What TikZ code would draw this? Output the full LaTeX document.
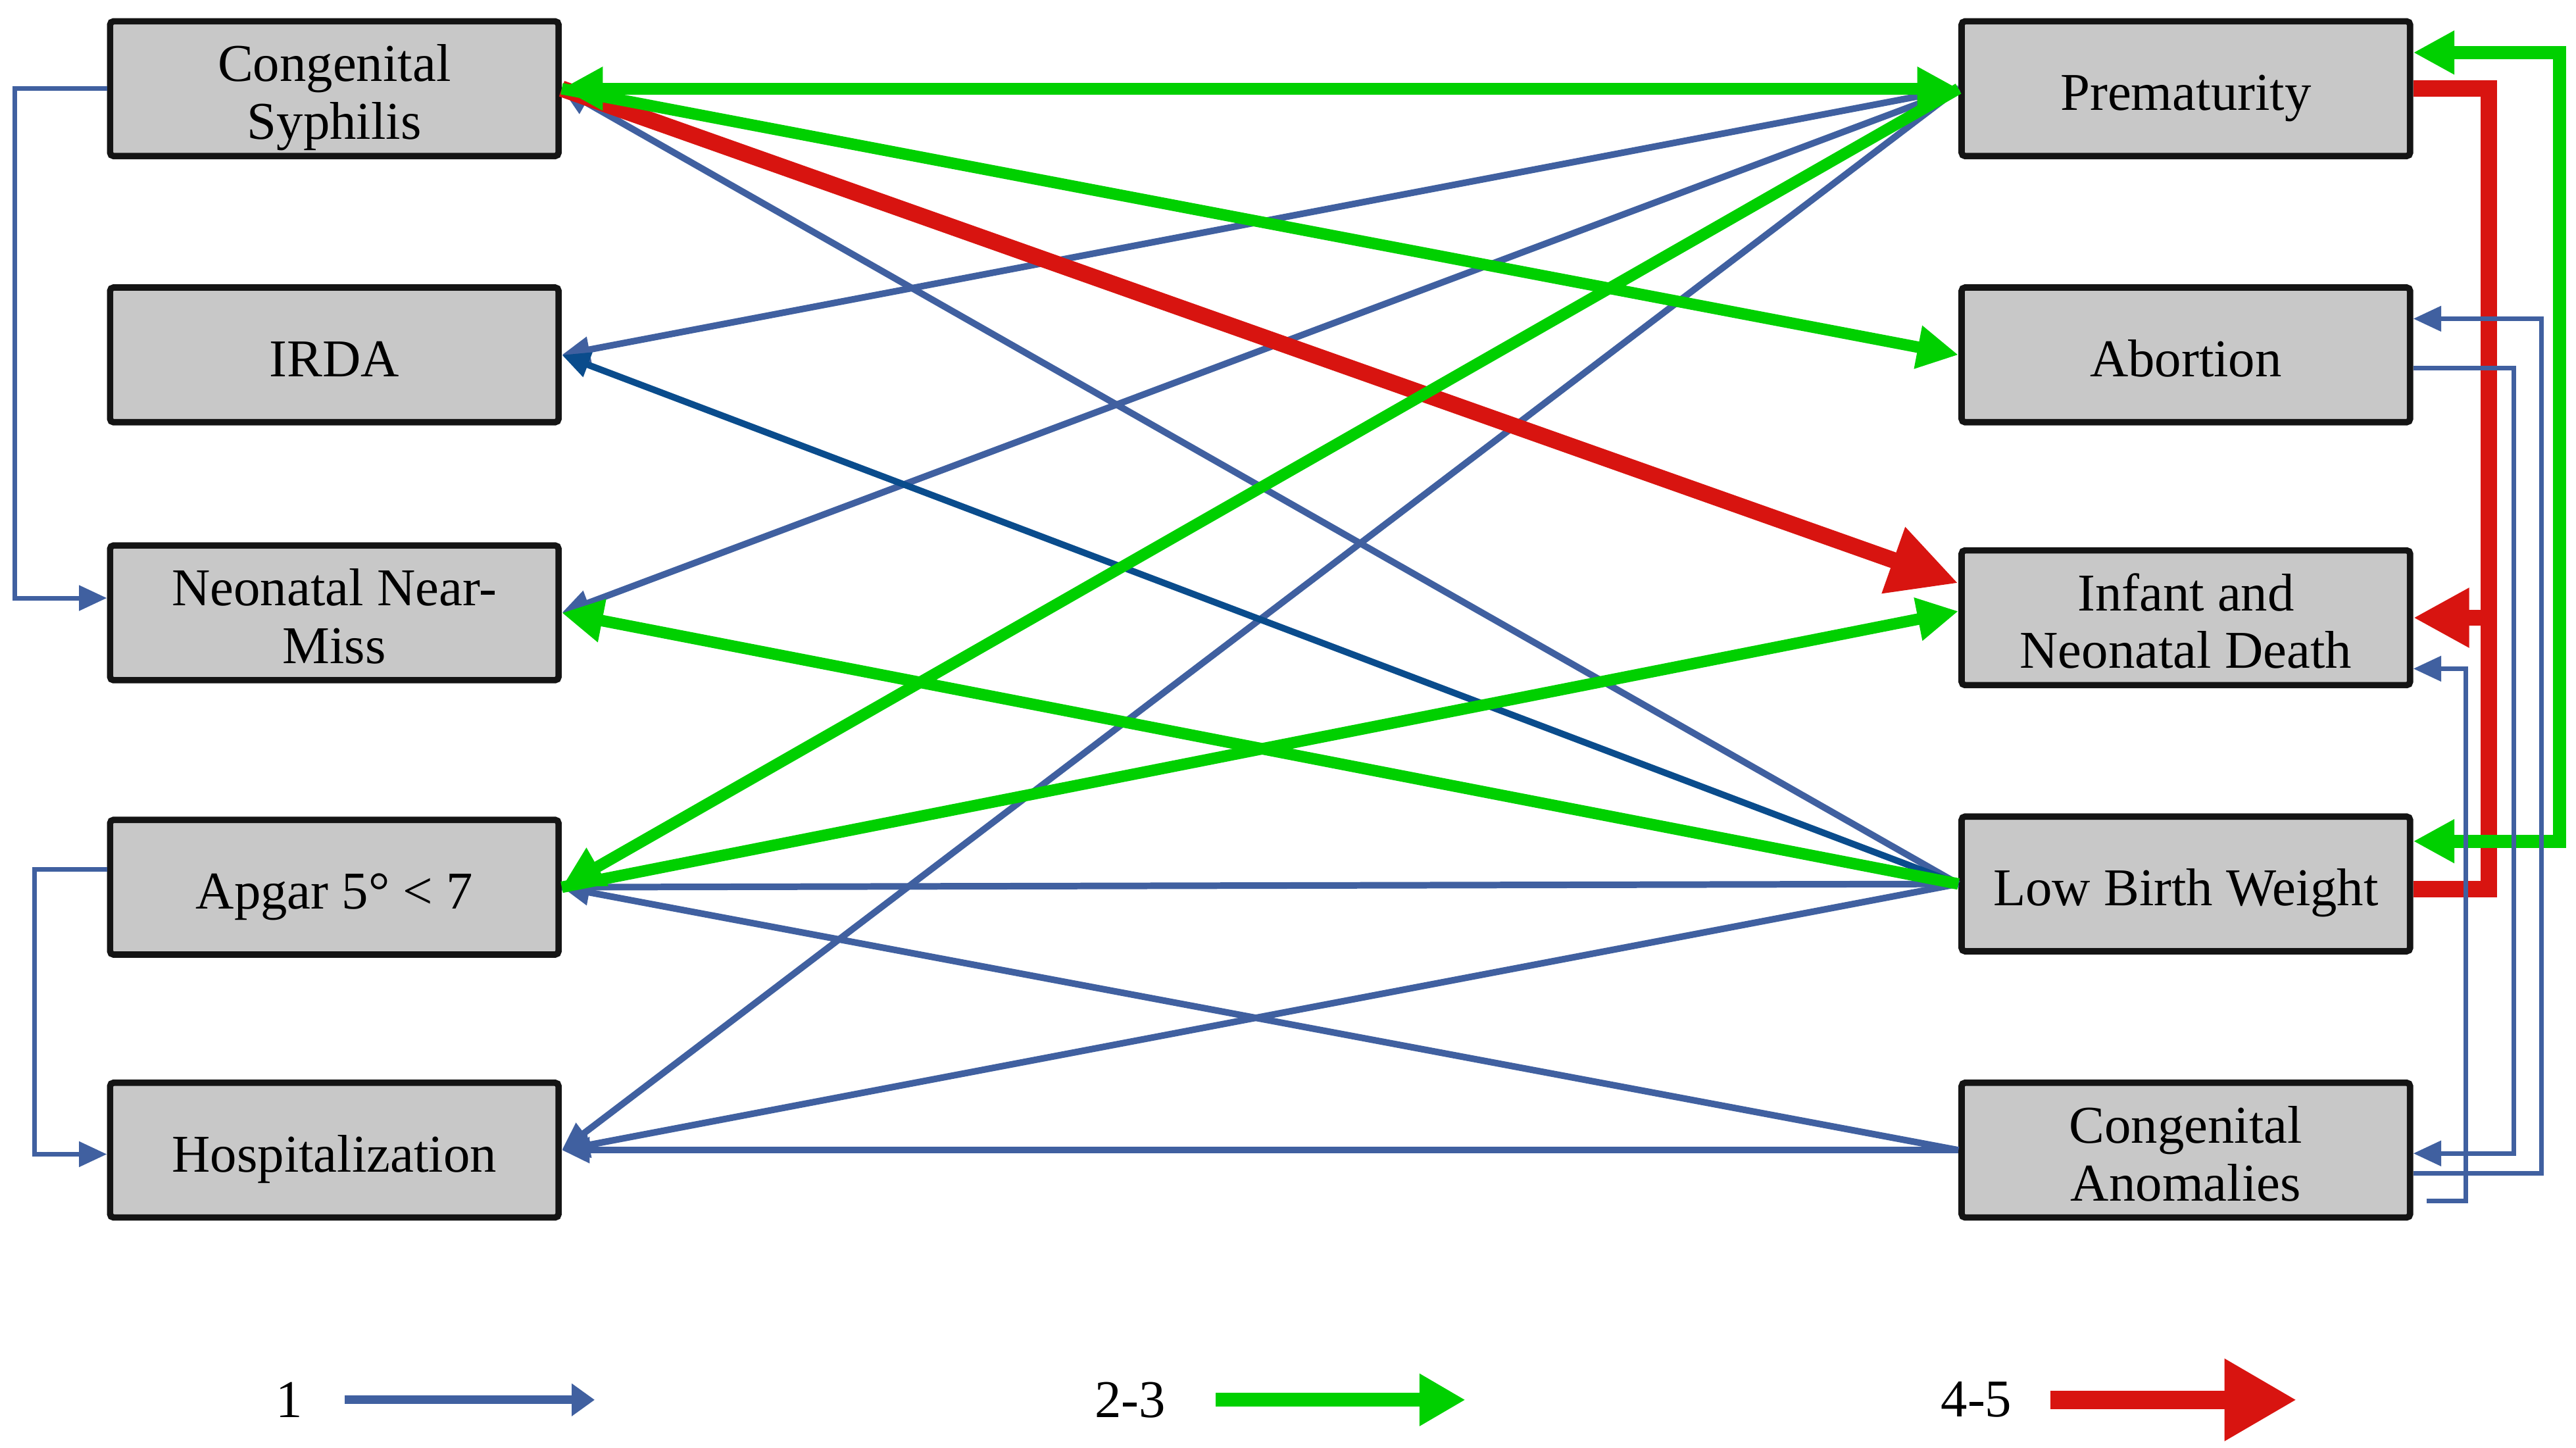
\documentclass[tikz,border=0pt]{standalone}
\usepackage{fontspec}
\setmainfont{Liberation Serif}
\usetikzlibrary{arrows.meta}

\definecolor{boxgray}{HTML}{C8C8C8}
\definecolor{lineblue}{HTML}{4060A0}
\definecolor{darkblue}{HTML}{0A4C8C}
\definecolor{linegreen}{HTML}{00D000}
\definecolor{linered}{HTML}{D81410}

\tikzset{
  box/.style={draw=black!92, line width=1.1pt, fill=boxgray, rounded corners=0.6pt,
    minimum width=2.73cm, minimum height=0.82cm, inner sep=0pt, align=center,
    text height=9.5pt, text depth=2pt,
    font=\fontsize{9.2}{10}\selectfont},
  twoline/.style={text height=19.5pt},
  one/.style={draw=lineblue, line width=0.04cm, -{Triangle[length=0.17cm,width=0.15cm]}},
  onethin/.style={one, line width=0.028cm},
  two/.style={draw=linegreen, line width=0.07cm, -{Triangle[length=0.25cm,width=0.25cm]}},
  four/.style={draw=linered, line width=0.1cm, -{Triangle[length=0.42cm,width=0.4cm]}},
  key/.style={font=\fontsize{9.2}{10}\selectfont}
}

\begin{document}
\begin{tikzpicture}
\useasboundingbox (0,0) rectangle (15.68,8.81);

% left column
\node[box,twoline] (cs) at (2.035,8.27) {Congenital\\Syphilis};
\node[box] (irda) at (2.035,6.65) {IRDA};
\node[box,twoline] (nnm) at (2.035,5.08) {Neonatal Near-\\Miss};
\node[box] (apg)  at (2.035,3.41) {Apgar 5° < 7};
\node[box] (hosp) at (2.035,1.81) {Hospitalization};

% right column
\node[box] (prem) at (13.305,8.27) {Prematurity};
\node[box] (abo)  at (13.305,6.65) {Abortion};
\node[box,twoline] (ind) at (13.305,5.05) {Infant and\\Neonatal Death};
\node[box] (lbw)  at (13.305,3.43) {Low Birth Weight};
\node[box,twoline] (ca) at (13.305,1.81) {Congenital\\Anomalies};

\coordinate (lx1) at (0.09,0);
\coordinate (lx2) at (0.21,0);
\coordinate (rx1) at (15.58,0);
\coordinate (rx2) at (15.15,0);
\coordinate (rx3) at (15.47,0);
\coordinate (rx4) at (15.30,0);
\coordinate (rx5) at (15.01,0);

% weight 1
\draw[one] (lbw.west) -- (cs.east);
\draw[one] (prem.west) -- (irda.east);
\draw[one] (prem.west) -- (nnm.east);
\draw[one] (prem.west) -- (hosp.east);
\draw[one,-] (lbw.west) -- (apg.east);
\draw[one] (ca.west) -- (apg.east);
\draw[one] (lbw.west) -- (hosp.east);
\draw[one] (ca.west) -- (hosp.east);
\draw[one,draw=darkblue] (lbw.west) -- (irda.east);
\draw[onethin] (cs.west) -- (cs.west -| lx1) |- ([yshift=0.09cm]nnm.west);
\draw[onethin] ([yshift=0.11cm]apg.west) -- ([yshift=0.11cm]apg.west -| lx2) |- ([yshift=-0.025cm]hosp.west);

% weight 4-5
\draw[four] (cs.east) -- ([yshift=0.21cm]ind.west);
\draw[four,-] (prem.east) -- (prem.east -| rx2) -- ([yshift=-0.03cm]lbw.east -| rx2) -- ([yshift=-0.03cm]lbw.east);
\draw[four,-{Triangle[length=0.34cm,width=0.34cm]}] (ind.east -| rx2) -- (ind.east);

% weight 2-3
\draw[two,{Triangle[length=0.25cm,width=0.25cm]}-{Triangle[length=0.25cm,width=0.25cm]}] (cs.east) -- (prem.west);
\draw[two] (cs.east) -- (abo.west);
\draw[two] (prem.west) -- (apg.east);
\draw[two] (lbw.west) -- (nnm.east);
\draw[two] (apg.east) -- ([yshift=0.04cm]ind.west);
\draw[two,line width=0.08cm,{Triangle[length=0.25cm,width=0.25cm]}-{Triangle[length=0.25cm,width=0.25cm]}] ([yshift=0.26cm]lbw.east) -- ([yshift=0.26cm]lbw.east -| rx1) |- ([yshift=0.22cm]prem.east);

% right side, weight 1
\draw[onethin] ([yshift=-0.14cm]ca.east) -- ([yshift=-0.14cm]ca.east -| rx3) |- ([yshift=0.22cm]abo.east);
\draw[onethin] ([yshift=-0.08cm]abo.east) -- ([yshift=-0.08cm]abo.east -| rx4) |- ([yshift=-0.02cm]ca.east);
\draw[onethin] ([xshift=0.08cm,yshift=-0.31cm]ca.east) -- ([yshift=-0.31cm]ca.east -| rx5) |- ([yshift=-0.31cm]ind.east);

% key
\node[key] (k1) at (1.76,0.29) {1};
\node[key] (k2) at (6.88,0.29) {2-3};
\node[key] (k3) at (12.03,0.29) {4-5};
\coordinate (k1a) at (2.10,0.29);
\coordinate (k1b) at (3.62,0.29);
\coordinate (k2a) at (7.40,0.29);
\coordinate (k2b) at (8.92,0.29);
\coordinate (k3a) at (12.48,0.29);
\coordinate (k3b) at (13.98,0.29);
\draw[one,line width=0.053cm,-{Triangle[length=0.14cm,width=0.19cm]}] (k1a) -- (k1b);
\draw[two,line width=0.084cm,-{Triangle[length=0.28cm,width=0.30cm]}] (k2a) -- (k2b);
\draw[four,line width=0.113cm,-{Triangle[length=0.44cm,width=0.47cm]}] (k3a) -- (k3b);

\end{tikzpicture}
\end{document}
